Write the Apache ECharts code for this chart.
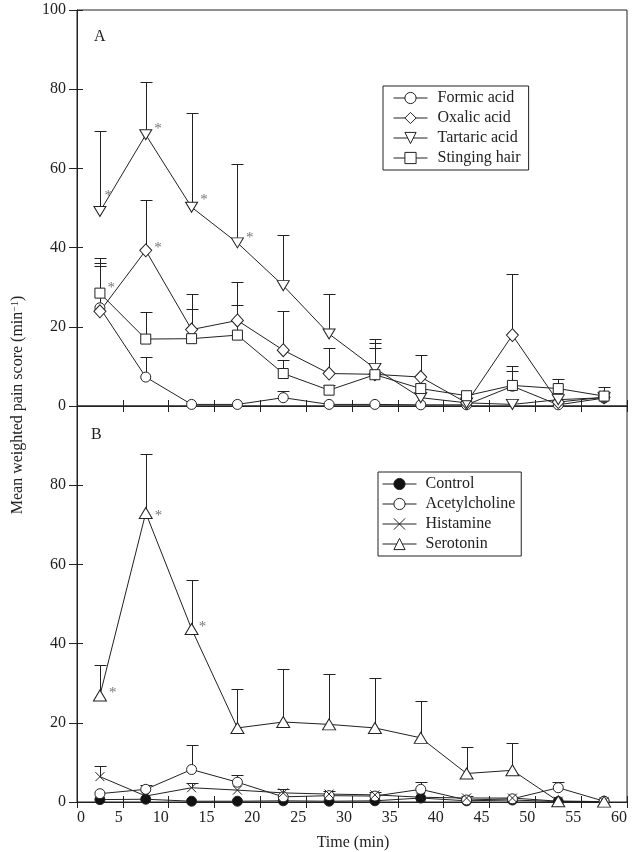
<!DOCTYPE html>
<html><head><meta charset="utf-8">
<script src="https://cdn.jsdelivr.net/npm/echarts@6/dist/echarts.min.js"></script>
<style>html,body{margin:0;padding:0;background:#fff}#c{width:632px;height:852px}</style>
</head><body><div id="c"></div>
<script>
// ---- data ----
const time = [2.5, 7.5, 12.5, 17.5, 22.5, 27.5, 32.5, 37.5, 42.5, 47.5, 52.5, 57.5];
const xTicks = [0, 5, 10, 15, 20, 25, 30, 35, 40, 45, 50, 55, 60];
const yTicks = [0, 20, 40, 60, 80, 100];

// Panel A
const formic        = [24.8, 7.3, 0.4, 0.4, 2.1, 0.4, 0.4, 0.3, 0.3, 5.0, 0.3, 2.0];
const formicUpper   = [35.3, 12.3, null, null, 3.7, null, null, null, null, 8.8, null, null];
const oxalic        = [23.9, 39.3, 19.3, 21.6, 14.1, 8.2, 8.0, 7.3, 0.8, 17.9, 1.0, 2.2];
const oxalicUpper   = [36.1, 52.1, 28.3, 31.2, 23.9, 14.7, 15.9, 13.0, null, 33.3, null, null];
const tartaric      = [49.1, 68.5, 50.2, 41.2, 30.4, 18.2, 9.5, 2.1, 0.8, 0.4, 1.6, 2.1];
const tartaricUpper = [69.5, 81.9, 73.9, 61.1, 43.1, 28.4, 17.0, null, null, null, null, null];
const stinging      = [28.5, 16.9, 17.0, 17.9, 8.2, 4.0, 7.9, 4.4, 2.6, 5.2, 4.4, 2.5];
const stingingUpper = [37.5, 23.8, 24.5, 25.6, 11.7, 5.2, 14.7, null, 3.0, 10.2, 6.9, 4.8];
const tartaricStars = [0, 1, 2, 3];
const oxalicStars = [1];
const stingingStars = [0];

// Panel B
const control        = [0.6, 0.7, 0.2, 0.2, 0.3, 0.2, 0.3, 1.0, 0.3, 0.5, 0.1, 0.1];
const acetyl         = [2.1, 3.2, 8.2, 5.0, 1.3, 1.6, 1.5, 3.2, 0.5, 0.8, 3.6, 0.2];
const acetylUpper    = [null, 4.4, 14.5, 6.9, null, null, null, 5.0, null, null, 5.1, null];
const histamine      = [6.4, 1.5, 3.6, 3.0, 2.3, 2.0, 1.8, 1.2, 1.0, 1.0, 0.2, 0.1];
const histamineUpper = [9.0, null, 4.8, null, 3.3, 2.8, 2.6, null, 1.6, null, null, null];
const serotonin      = [26.9, 73.0, 43.7, 18.7, 20.2, 19.6, 18.7, 16.2, 7.2, 8.0, 0.2, 0.1];
const serotoninUpper = [34.5, 87.8, 56.0, 28.6, 33.5, 32.4, 31.3, 25.5, 13.8, 14.9, null, null];
const serotoninStars = [0, 1, 2];

const legendA = ['Formic acid', 'Oxalic acid', 'Tartaric acid', 'Stinging hair'];
const legendB = ['Control', 'Acetylcholine', 'Histamine', 'Serotonin'];

// ---- chart ----
const FONT = 'Liberation Serif';
const INK = '#222';
const chart = echarts.init(document.getElementById('c'), null, {renderer: 'canvas'});

function starLabel(offset) {
  return {show: true, formatter: '*', position: 'right', distance: 2, offset: offset || [0, -4],
    color: '#777', fontSize: 15, fontFamily: FONT};
}
function mkData(vals, stars, starOffsets) {
  return vals.map((v, i) => {
    const d = {value: [time[i], v]};
    const k = stars ? stars.indexOf(i) : -1;
    if (k >= 0) d.label = starLabel(starOffsets && starOffsets[k]);
    return d;
  });
}
function lineSeries(name, vals, grid, symbol, size, fill, stars, starOffsets) {
  return {
    type: 'line', name, xAxisIndex: grid * 2, yAxisIndex: grid * 2,
    data: mkData(vals, stars, starOffsets), symbol, symbolSize: size, showAllSymbol: true,
    lineStyle: {color: INK, width: 1}, itemStyle: {color: fill || '#fff', borderColor: INK, borderWidth: 1},
    label: {show: false}, z: 3, animation: false, emphasis: {disabled: true}
  };
}
function errSeries(vals, upper, grid) {
  const data = [];
  upper.forEach((u, i) => { if (u != null) data.push([time[i], vals[i], u]); });
  return {
    type: 'custom', xAxisIndex: grid * 2, yAxisIndex: grid * 2, data, z: 1, silent: true,
    animation: false, encode: {x: 0, y: [1, 2]},
    renderItem(params, api) {
      const p0 = api.coord([api.value(0), api.value(1)]);
      const p1 = api.coord([api.value(0), api.value(2)]);
      const x = Math.round(p0[0]) + 0.5, y1 = Math.round(p1[1]) + 0.5;
      const st = {stroke: INK, lineWidth: 1, fill: null};
      return {type: 'group', children: [
        {type: 'line', shape: {x1: x, y1: p0[1], x2: x, y2: y1}, style: st},
        {type: 'line', shape: {x1: x - 6, y1: y1, x2: x + 6, y2: y1}, style: st}
      ]};
    }
  };
}

const downTri = 'path://M0,0L12,0L6,10Z';
const xMark = 'path://M0,0L10,10M10,0L0,10';

const axisLine = {show: true, lineStyle: {color: INK, width: 1}};
function xAx(grid, pos, labels) {
  return {type: 'value', gridIndex: grid, position: pos, min: 0, max: 60, interval: 5,
    axisLine, axisTick: {show: true, inside: true, length: 6, lineStyle: {color: INK}},
    axisLabel: labels ? {show: true, color: INK, fontFamily: FONT, fontSize: 16, margin: 8,
      align: 'right', alignMinLabel: 'left', alignMaxLabel: 'right',
      formatter: v => xTicks.includes(v) ? String(v) : ''} : {show: false},
    splitLine: {show: false}};
}
function yAx(grid, inside, labels) {
  return {type: 'value', gridIndex: grid, position: 'left', min: 0, max: 100, interval: 20,
    axisLine: inside ? {show: false} : axisLine,
    axisTick: {show: true, inside, length: inside ? 6 : 8, lineStyle: {color: INK}},
    axisLabel: labels ? {show: true, color: INK, fontFamily: FONT, fontSize: 16, margin: 11,
      showMaxLabel: grid === 0, formatter: v => yTicks.includes(v) ? String(v) : ''} : {show: false},
    splitLine: {show: false}};
}

const legendCommon = {
  orient: 'vertical', itemWidth: 34, itemHeight: 14, itemGap: 4,
  borderColor: INK, borderWidth: 1, backgroundColor: '#fff',
  itemStyle: {borderWidth: 1}, lineStyle: {width: 1},
  textStyle: {color: INK, fontFamily: FONT, fontSize: 16, lineHeight: 15},
  selectedMode: false
};

const option = {
  backgroundColor: '#fff',
  animation: false,
  grid: [
    {left: 77, right: 5, top: 10, height: 396, show: true, borderColor: INK, borderWidth: 1,
      backgroundColor: 'transparent', outerBoundsMode: 'none', containLabel: false},
    {left: 77, right: 5, top: 406, height: 396, show: true, borderColor: INK, borderWidth: 1,
      backgroundColor: 'transparent', outerBoundsMode: 'none', containLabel: false}
  ],
  xAxis: [xAx(0, 'bottom', false), xAx(0, 'top', false), xAx(1, 'bottom', true), xAx(1, 'top', false)],
  yAxis: [yAx(0, false, true), yAx(0, true, false), yAx(1, false, true), yAx(1, true, false)],
  legend: [
    Object.assign({}, legendCommon, {data: legendA, left: 383, top: 86, padding: [4, 8, 4, 10],
      textStyle: Object.assign({}, legendCommon.textStyle, {padding: [0, 0, 0, 5]})}),
    Object.assign({}, legendCommon, {data: legendB, left: 378, top: 472, padding: [4, 6, 4, 4],
      textStyle: Object.assign({}, legendCommon.textStyle, {padding: [0, 0, 0, 4]})})
  ],
  graphic: [
    {type: 'text', left: 94, top: 29, style: {text: 'A', font: '16px "Liberation Serif"', fill: INK}},
    {type: 'text', left: 91, top: 427, style: {text: 'B', font: '16px "Liberation Serif"', fill: INK}},
    {type: 'text', x: 353, y: 843, style: {text: 'Time (min)', font: '16px "Liberation Serif"', fill: INK,
      align: 'center', verticalAlign: 'middle'}},
    {type: 'text', x: 18, y: 405, rotation: Math.PI / 2, style: {
      text: 'Mean weighted pain score (min{sup|−1})', font: '16px "Liberation Serif"', fill: INK,
      align: 'center', verticalAlign: 'middle',
      rich: {sup: {fontSize: 10, verticalAlign: 'top', fontFamily: FONT, fill: INK, padding: [0, 0, 6, 0]}}}}
  ],
  series: [
    errSeries(formic, formicUpper, 0),
    errSeries(oxalic, oxalicUpper, 0),
    errSeries(tartaric, tartaricUpper, 0),
    errSeries(stinging, stingingUpper, 0),
    lineSeries('Formic acid', formic, 0, 'circle', 10),
    lineSeries('Oxalic acid', oxalic, 0, 'diamond', [12, 13], null, oxalicStars, [[0, -2]]),
    lineSeries('Tartaric acid', tartaric, 0, downTri, [12, 10], null, tartaricStars, [[-4, -16], [0, -6], [0, -7], [0, -5]]),
    lineSeries('Stinging hair', stinging, 0, 'rect', 10, null, stingingStars, [[0, -5]]),

    errSeries(acetyl, acetylUpper, 1),
    errSeries(histamine, histamineUpper, 1),
    errSeries(serotonin, serotoninUpper, 1),
    lineSeries('Control', control, 1, 'circle', 10, '#111'),
    lineSeries('Acetylcholine', acetyl, 1, 'circle', 10),
    lineSeries('Histamine', histamine, 1, xMark, 9),
    lineSeries('Serotonin', serotonin, 1, 'triangle', [13, 11], null, serotoninStars, [[0, -2], [0, 3], [-2, -2]])
  ]
};
chart.setOption(option);
</script></body></html>
